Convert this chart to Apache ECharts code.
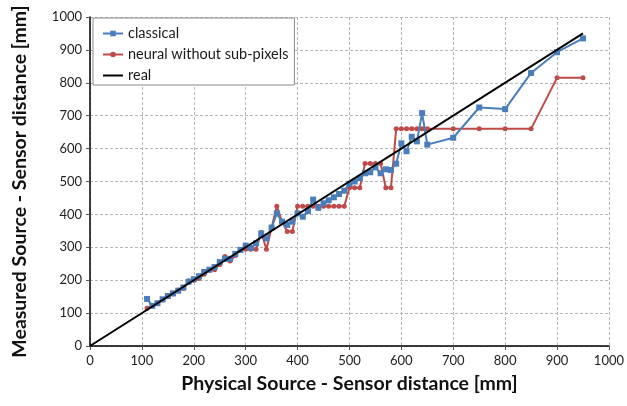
<!DOCTYPE html>
<html>
<head>
<meta charset="utf-8">
<script src="https://cdn.jsdelivr.net/npm/echarts@6/dist/echarts.min.js"></script>
<style>
  html, body { margin: 0; padding: 0; background: #fff; }
  #chart { width: 627px; height: 406px; }
</style>
</head>
<body>
<div id="chart"></div>
<script>
// physical distance (mm) at which each measurement was taken
const distances = [
  110, 120, 130, 140, 150, 160, 170, 180, 190, 200,
  210, 220, 230, 240, 250, 260, 270, 280, 290, 300,
  310, 320, 330, 340, 350, 360, 370, 380, 390, 400,
  410, 420, 430, 440, 450, 460, 470, 480, 490, 500,
  510, 520, 530, 540, 550, 560, 570, 580, 590, 600,
  610, 620, 630, 640, 650, 700, 750, 800, 850, 900, 950
];
const classical = [
  143, 122, 130, 142, 152, 160, 168, 178, 195, 203,
  212, 225, 232, 240, 255, 265, 265, 280, 292, 305,
  298, 312, 342, 327, 360, 403, 378, 368, 378, 403,
  393, 410, 445, 420, 434, 443, 452, 462, 472, 493,
  500, 510, 525, 528, 543, 525, 537, 535, 554, 616,
  592, 636, 622, 708, 612, 633, 725, 720, 830, 893, 935
];
const neural = [
  115, 122, 130, 140, 150, 158, 170, 175, 198, 200,
  205, 218, 230, 232, 248, 272, 258, 275, 293, 294,
  294, 294, 345, 294, 360, 425, 378, 348, 348, 425,
  425, 425, 425, 425, 425, 425, 425, 425, 425, 481,
  481, 481, 555, 555, 555, 555, 481, 481, 660, 660,
  660, 660, 660, 660, 660, 660, 660, 660, 660, 815, 815
];
const realLine = [[0, 0], [950, 950]];

const font = "Lato";

let chart = echarts.init(document.getElementById("chart"));

let option = {
  animation: false,
  textStyle: { fontFamily: font },
  grid: { left: 90, right: 17, top: 17, bottom: 60 },
  legend: {
    orient: "vertical",
    left: 93,
    top: 18,
    backgroundColor: "#fff",
    borderColor: "#8c8c8c",
    borderWidth: 1,
    borderRadius: 0,
    padding: [8, 6, 2, 9],
    itemGap: 6,
    itemWidth: 20,
    itemHeight: 7,
    textStyle: { fontFamily: font, fontSize: 14.5, color: "#1a1a1a", lineHeight: 15 },
    data: [
      { name: "classical" },
      { name: "neural without sub-pixels" },
      { name: "real", itemStyle: { color: "transparent", borderWidth: 0 } }
    ]
  },
  xAxis: {
    type: "value",
    min: 0,
    max: 1000,
    interval: 100,
    name: "Physical Source - Sensor distance [mm]",
    nameLocation: "middle",
    nameGap: 28,
    nameTextStyle: { fontFamily: font, fontSize: 19.5, fontWeight: "bold", color: "#111" },
    axisLine: { lineStyle: { color: "#000", width: 1.5 } },
    axisTick: { show: true, length: 4, lineStyle: { color: "#555" } },
    axisLabel: { fontFamily: font, fontSize: 13, color: "#222", margin: 8, formatter: v => String(v) },
    splitLine: { show: true, lineStyle: { color: "#b5b5b5", type: [3, 2] } }
  },
  yAxis: {
    type: "value",
    min: 0,
    max: 1000,
    interval: 100,
    name: "Measured Source - Sensor distance [mm]",
    nameLocation: "middle",
    nameGap: 60,
    nameTextStyle: { fontFamily: font, fontSize: 19.5, fontWeight: "bold", color: "#111" },
    axisLine: { show: true, lineStyle: { color: "#000", width: 1.5 } },
    axisTick: { show: true, length: 4, lineStyle: { color: "#555" } },
    axisLabel: { fontFamily: font, fontSize: 13, color: "#222", margin: 8, formatter: v => String(v) },
    splitLine: { show: true, lineStyle: { color: "#b5b5b5", type: [3, 2] } }
  },
  series: [
    {
      name: "classical",
      type: "line",
      data: distances.map((d, i) => [d, classical[i]]),
      symbol: "rect",
      symbolSize: 6,
      itemStyle: { color: "#4a7ebb" },
      lineStyle: { color: "#4a7ebb", width: 2 },
      z: 3
    },
    {
      name: "neural without sub-pixels",
      type: "line",
      data: distances.map((d, i) => [d, neural[i]]),
      symbol: "circle",
      symbolSize: 5,
      itemStyle: { color: "#be4b48" },
      lineStyle: { color: "#be4b48", width: 2 },
      z: 2
    },
    {
      name: "real",
      type: "line",
      data: realLine,
      symbol: "none",
      itemStyle: { color: "#000" },
      lineStyle: { color: "#000", width: 2 },
      z: 4
    }
  ]
};

chart.setOption(option);
</script>
</body>
</html>
